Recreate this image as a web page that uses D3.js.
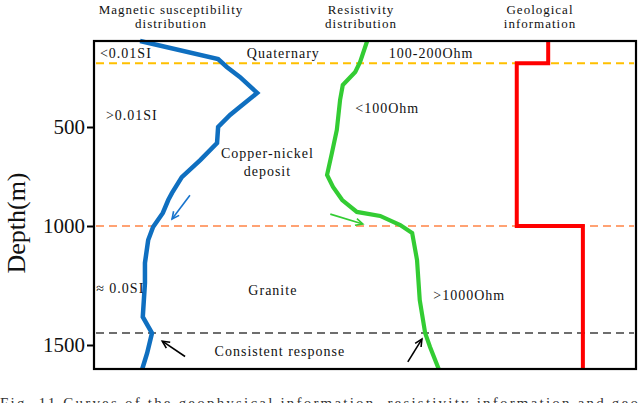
<!DOCTYPE html>
<html>
<head>
<meta charset="utf-8">
<script src="https://cdn.jsdelivr.net/npm/d3@7"></script>
<style>
  html, body { margin: 0; padding: 0; background: #fff; }
  svg { display: block; }
</style>
</head>
<body>
<svg id="chart" width="640" height="403"></svg>
<script>
// ---------------- data ----------------
// Depth (m) tick labels
const depthTicks = [500, 1000, 1500];
// Track titles
const trackTitles = [
  ["Magnetic susceptibility", "distribution"],
  ["Resistivity", "distribution"],
  ["Geological", "information"]
];
// Magnetic susceptibility curve: depth (m) and relative response (0-100 across panel)
const magDepth = [0, 105, 151, 209, 302, 384, 430, 500, 581, 667, 753, 833, 869, 934, 1004, 1059, 1155, 1239, 1382, 1450, 1534, 1600];
const magValue = [8.5, 22.9, 24.5, 26.9, 30.1, 26.9, 25.1, 22.9, 22.7, 19.6, 16.2, 14.4, 13.7, 12.7, 10.9, 10.0, 9.4, 9.4, 9.0, 10.7, 9.8, 8.9];
// Resistivity curve
const resDepth = [0, 122, 180, 256, 343, 515, 631, 742, 803, 869, 929, 949, 995, 1029, 1143, 1311, 1450, 1508, 1600];
const resValue = [50.4, 49.1, 48.2, 45.9, 45.4, 44.8, 43.9, 43.0, 44.1, 45.8, 48.5, 52.8, 56.5, 58.7, 59.6, 60.1, 61.1, 62.0, 63.6];
// Geological information step curve
const geoDepth = [0, 130, 1000, 1600];
const geoValue = [83.8, 78.0, 90.2, 90.2];
// Boundaries (depth m)
const boundaryDepth = [130, 1000, 1450];
const boundaryColor = ["#FFC000", "#FFA273", "#6E6E6E"];
// Text annotations: [text, value, depth, anchor]
const notes = [
  ["<0.01SI", 1.1, 100, "start"],
  ["Quaternary", 28.2, 100, "start"],
  ["100-200Ohm", 54.4, 100, "start"],
  [">0.01SI", 2.2, 460, "start"],
  ["<100Ohm", 48.2, 420, "start"],
  ["Copper-nickel", 32.0, 655, "middle"],
  ["deposit", 32.0, 745, "middle"],
  ["\u2248 0.0SI", 0.4, 1280, "start"],
  ["Granite", 33.0, 1290, "middle"],
  [">1000Ohm", 62.6, 1310, "start"],
  ["Consistent response", 34.3, 1545, "middle"]
];
// Arrows: [value0, depth0, value1, depth1, colour]
const arrows = [
  [17.7, 845, 14.4, 965, "#1874CD"],
  [43.6, 940, 49.6, 990, "#33CC33"],
  [16.8, 1548, 12.6, 1484, "#000"],
  [57.9, 1570, 60.5, 1475, "#000"]
];
const caption = "Fig. 11    Curves of the geophysical information, resistivity information and geological information";

// ---------------- layout ----------------
const FONT = '"Liberation Serif", "Times New Roman", serif';
const svg = d3.select("#chart");
const L = 94, R = 636, T = 41, B = 369;

const y = d3.scaleLinear()
  .domain([0, 500, 1000, 1500, 1600])
  .range([T, 127, 226, 345, B]);
const x = d3.scaleLinear().domain([0, 100]).range([L, R]);

function txt(sel) { return sel.style("font-family", FONT).attr("fill", "#111"); }

// titles
const titleX = [171, 361, 540];
trackTitles.forEach((lines, i) => {
  lines.forEach((s, j) => {
    txt(svg.append("text"))
      .attr("x", titleX[i]).attr("y", 13.5 + j * 14.5)
      .attr("text-anchor", "middle")
      .attr("font-size", 13).attr("letter-spacing", 1)
      .text(s);
  });
});

// boundary dashed lines
boundaryDepth.forEach((d, i) => {
  svg.append("line")
    .attr("x1", L + 2).attr("x2", R - 2)
    .attr("y1", y(d)).attr("y2", y(d))
    .attr("stroke", boundaryColor[i]).attr("stroke-width", 2)
    .attr("stroke-dasharray", "8,5");
});

// curves
const line = d3.line().x(d => x(d[1])).y(d => y(d[0])).curve(d3.curveLinear);
svg.append("path")
  .datum(magDepth.map((d, i) => [d, magValue[i]]))
  .attr("d", line).attr("fill", "none")
  .attr("stroke", "#0F6FC0").attr("stroke-width", 4.5);
svg.append("path")
  .datum(resDepth.map((d, i) => [d, resValue[i]]))
  .attr("d", line).attr("fill", "none")
  .attr("stroke", "#33CC33").attr("stroke-width", 4.2);
svg.append("path")
  .datum(geoDepth.map((d, i) => [d, geoValue[i]]))
  .attr("d", d3.line().x(d => x(d[1])).y(d => y(d[0])).curve(d3.curveStepBefore))
  .attr("fill", "none").attr("stroke", "#FF0000").attr("stroke-width", 4);

// arrows
arrows.forEach(a => {
  const x0 = x(a[0]), y0 = y(a[1]), x1 = x(a[2]), y1 = y(a[3]);
  const ang = Math.atan2(y1 - y0, x1 - x0);
  const hl = 8, ha = 0.45;
  svg.append("line")
    .attr("x1", x0).attr("y1", y0).attr("x2", x1).attr("y2", y1)
    .attr("stroke", a[4]).attr("stroke-width", 1.6);
  const p = d3.path();
  p.moveTo(x1 - hl * Math.cos(ang - ha), y1 - hl * Math.sin(ang - ha));
  p.lineTo(x1, y1);
  p.lineTo(x1 - hl * Math.cos(ang + ha), y1 - hl * Math.sin(ang + ha));
  svg.append("path").attr("d", p.toString()).attr("fill", "none")
    .attr("stroke", a[4]).attr("stroke-width", 1.6);
});

// annotations
notes.forEach(n => {
  txt(svg.append("text"))
    .attr("x", x(n[1])).attr("y", y(n[2]))
    .attr("text-anchor", n[3])
    .attr("font-size", 14).attr("letter-spacing", 1)
    .text(n[0]);
});

// frame
svg.append("rect")
  .attr("x", L).attr("y", T).attr("width", R - L).attr("height", B - T)
  .attr("fill", "none").attr("stroke", "#000").attr("stroke-width", 2.2);

// y axis
const yAxis = d3.axisLeft(y).tickValues(depthTicks).tickSize(7).tickPadding(2).tickFormat(d3.format("d"));
const gy = svg.append("g").attr("transform", `translate(${L},0)`).call(yAxis);
gy.select(".domain").remove();
gy.selectAll(".tick line").attr("stroke", "#000").attr("stroke-width", 2);
gy.selectAll(".tick text")
  .style("font-family", FONT)
  .attr("font-size", 21).attr("fill", "#111");

txt(svg.append("text"))
  .attr("transform", `translate(25,${223}) rotate(-90)`)
  .attr("text-anchor", "middle")
  .attr("font-size", 26)
  .text("Depth(m)");

// caption (cropped at the bottom edge in the reference)
txt(svg.append("text"))
  .attr("x", 0).attr("y", 408)
  .attr("font-size", 15).attr("letter-spacing", 2.2)
  .attr("fill", "#333")
  .text(caption);
</script>
</body>
</html>
